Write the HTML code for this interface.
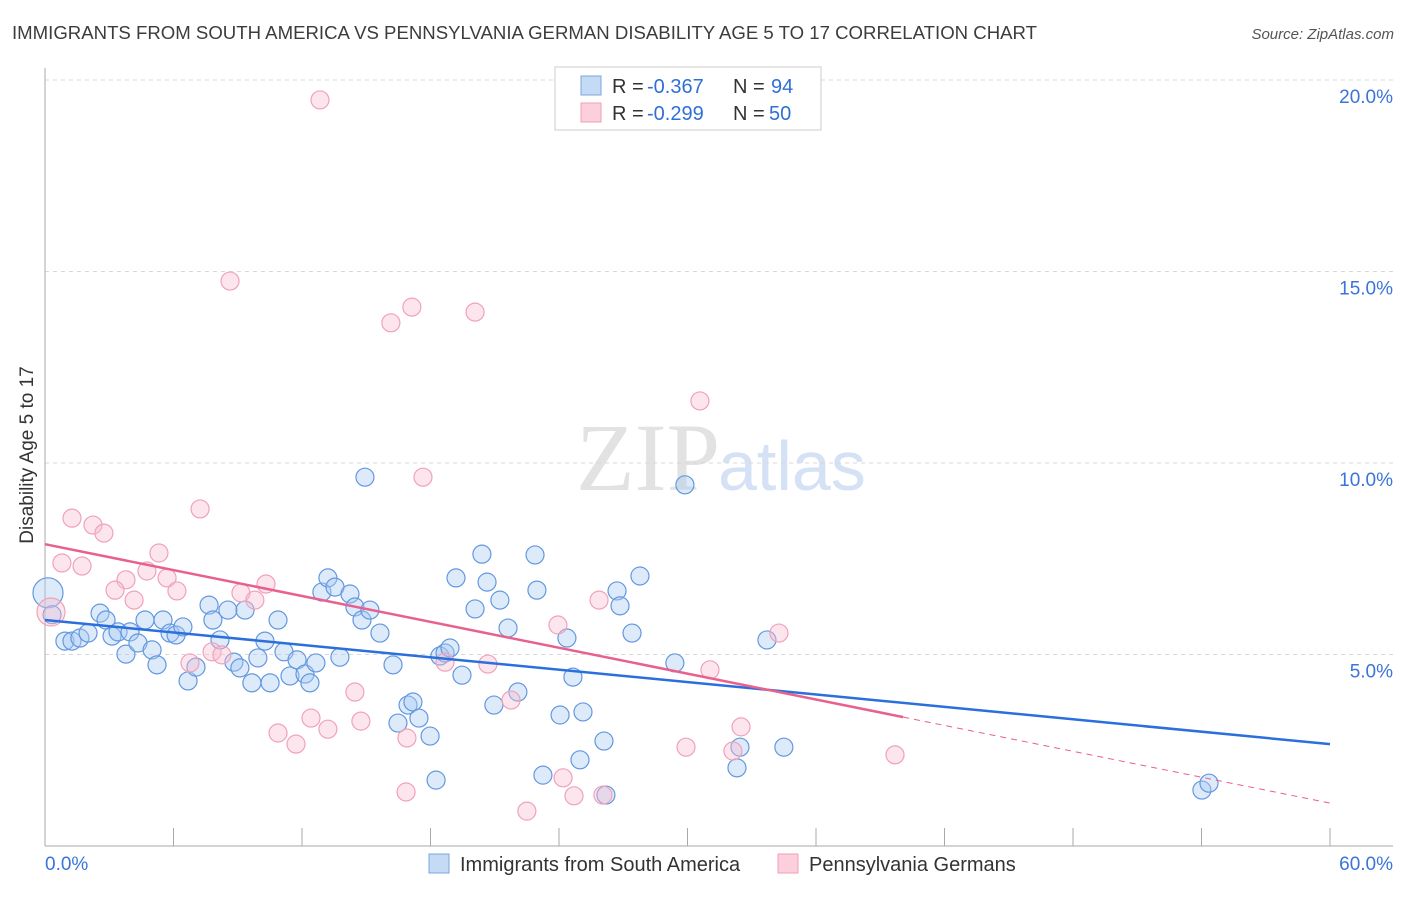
<!DOCTYPE html>
<html><head><meta charset="utf-8"><style>
body{margin:0;background:#fff;font-family:"Liberation Sans",sans-serif;}
svg text{font-family:"Liberation Sans",sans-serif;}
</style></head><body>
<svg id="chart" width="1406" height="892" viewBox="0 0 1406 892" xmlns="http://www.w3.org/2000/svg">
<text x="12" y="39" font-size="18" fill="#3c3c3c" textLength="1025" lengthAdjust="spacingAndGlyphs">IMMIGRANTS FROM SOUTH AMERICA VS PENNSYLVANIA GERMAN DISABILITY AGE 5 TO 17 CORRELATION CHART</text>
<text x="1394" y="39" font-size="15" fill="#555" font-style="italic" text-anchor="end">Source: ZipAtlas.com</text>
<text x="720" y="490" font-size="96" fill="#e2e2e2" text-anchor="end" style="font-family:'Liberation Serif',serif">ZIP</text>
<text x="718" y="490" font-size="70" fill="#d5e2f5">atlas</text>
<g id="grid"></g>
<g id="axes"></g>
<g id="marks"></g>
<text transform="translate(33,455) rotate(-90)" font-size="19" fill="#333" text-anchor="middle">Disability Age 5 to 17</text>
<g>
<rect x="555" y="67" width="266" height="63" fill="#fff" stroke="#ccc"/>
<rect x="581" y="76" width="20" height="19" fill="#c5daf5" stroke="#7aa6e0"/>
<rect x="581" y="103" width="20" height="19" fill="#fbd0dc" stroke="#ee9fb6"/>
<text x="612" y="93" font-size="20" fill="#333">R =</text>
<text x="647" y="93" font-size="20" fill="#2f6fd6">-0.367</text>
<text x="733" y="93" font-size="20" fill="#333">N =</text>
<text x="771" y="93" font-size="20" fill="#2f6fd6">94</text>
<text x="612" y="120" font-size="20" fill="#333">R =</text>
<text x="647" y="120" font-size="20" fill="#2f6fd6">-0.299</text>
<text x="733" y="120" font-size="20" fill="#333">N =</text>
<text x="769" y="120" font-size="20" fill="#2f6fd6">50</text>
</g>
<g>
<rect x="429" y="854" width="20" height="19" fill="#c5daf5" stroke="#7aa6e0"/>
<text x="460" y="871" font-size="20" fill="#333">Immigrants from South America</text>
<rect x="778" y="854" width="20" height="19" fill="#fbd0dc" stroke="#ee9fb6"/>
<text x="809" y="871" font-size="20" fill="#333">Pennsylvania Germans</text>
</g>
</svg>
<script>
const blueX=[0.14,0.33,0.93,1.26,1.63,2.01,2.57,2.85,3.13,3.41,3.78,3.97,4.34,4.67,5.00,5.23,5.51,5.84,6.12,6.44,6.68,7.05,7.66,7.84,8.17,8.54,8.82,9.10,9.34,9.66,9.94,10.27,10.51,10.88,11.16,11.44,11.77,12.14,12.37,12.65,12.93,13.21,13.54,13.77,14.24,14.47,14.80,15.17,15.64,16.25,16.48,16.95,17.18,17.46,17.98,18.26,18.44,18.68,18.91,19.47,19.19,20.08,20.40,20.64,20.96,21.24,21.62,22.08,22.88,22.97,23.25,24.05,24.37,24.65,24.98,25.12,26.10,26.19,26.71,26.85,27.41,27.78,29.41,29.88,32.45,32.31,33.71,34.50,54.02,54.35,14.94];
const blueY=[6.61,6.04,5.35,5.35,5.43,5.56,6.08,5.90,5.48,5.59,5.01,5.59,5.30,5.90,5.12,4.73,5.90,5.56,5.51,5.72,4.31,4.67,6.29,5.90,5.38,6.16,4.80,4.65,6.16,4.26,4.91,5.35,4.26,5.90,5.07,4.44,4.86,4.49,4.26,4.78,6.63,7.00,6.76,4.93,6.58,6.24,5.90,6.16,5.56,4.73,3.21,3.68,3.76,3.34,2.87,1.72,4.96,5.04,5.17,4.46,7.00,6.19,7.62,6.89,3.68,6.42,5.69,4.02,7.60,6.68,1.85,3.42,5.43,4.41,2.25,3.50,2.74,1.33,6.66,6.27,5.56,7.05,4.78,9.43,2.58,2.04,5.38,2.58,1.46,1.64,9.63];
const pinkX=[12.84,8.64,16.15,17.13,20.08,30.58,17.65,7.24,1.26,2.24,2.75,0.79,1.73,5.32,4.76,3.78,5.70,3.27,6.16,4.16,9.15,10.32,9.80,0.28,25.87,23.95,34.27,6.77,7.80,8.26,18.68,20.68,31.05,14.47,21.76,12.42,14.75,13.21,10.88,11.72,16.90,29.93,32.12,32.50,39.69,24.19,16.86,24.70,26.05,22.50];
const pinkY=[19.48,14.75,13.66,14.07,13.94,11.62,9.63,8.80,8.56,8.38,8.17,7.39,7.31,7.65,7.18,6.95,7.00,6.68,6.66,6.42,6.61,6.84,6.42,6.11,6.42,5.77,5.56,4.78,5.07,4.99,4.80,4.75,4.60,4.02,3.81,3.34,3.26,3.05,2.95,2.66,2.82,2.58,2.48,3.11,2.38,1.78,1.41,1.31,1.33,0.91];
const yTicks=[5,10,15,20];
const yTickLabels=["5.0%","10.0%","15.0%","20.0%"];
const xTickValues=[0,6,12,18,24,30,36,42,48,54,60];
const xEndLabels=["0.0%","60.0%"];
const blueTrend=[5.90,2.66];
const pinkTrend=[7.88,1.12];
const pinkSolidEnd=40.07;

const NS="http://www.w3.org/2000/svg";
const sx=v=>45+v/60*1285;
const sy=v=>846-v/5*191.5;
function mk(tag,attrs,parent){const e=document.createElementNS(NS,tag);for(const k in attrs)e.setAttribute(k,attrs[k]);parent.appendChild(e);return e;}
const grid=document.getElementById('grid'),axes=document.getElementById('axes'),marks=document.getElementById('marks');
yTicks.forEach((t,i)=>{
 const l=mk('line',{x1:45,x2:1393,y1:sy(t),y2:sy(t),stroke:'#d8d8d8','stroke-dasharray':'4,4'},grid);
 
 
 const tx=mk('text',{x:1393,y:sy(t)+23,'font-size':19,fill:'#3a74d8','text-anchor':'end'},axes);
 tx.textContent=yTickLabels[i];
 
 
});
const xa=mk('line',{x1:45,x2:1393,y1:846,y2:846,stroke:'#aaa'},axes);


const ya=mk('line',{x1:45,x2:45,y1:68,y2:846,stroke:'#aaa'},axes);


xTickValues.forEach(v=>{
 const t=mk('line',{x1:sx(v),x2:sx(v),y1:828,y2:846,stroke:'#aaa'},axes);
 
 
});
const xl0=mk('text',{x:45,y:870,'font-size':19,fill:'#3a74d8'},axes);xl0.textContent=xEndLabels[0];


const xl1=mk('text',{x:1393,y:870,'font-size':19,fill:'#3a74d8','text-anchor':'end'},axes);xl1.textContent=xEndLabels[1];


blueX.forEach((x,i)=>{
 const c=mk('circle',{cx:sx(x),cy:sy(blueY[i]),r:i===0?15:9,fill:'rgba(170,202,242,0.4)',stroke:'#6398e0','stroke-width':1.2},marks);
 
 
});
pinkX.forEach((x,i)=>{
 const c=mk('circle',{cx:sx(x),cy:sy(pinkY[i]),r:i===23?14:9,fill:'rgba(248,190,208,0.4)',stroke:'#f0a2b9','stroke-width':1.2},marks);
 
 
});
const pAt=x=>pinkTrend[0]+(pinkTrend[1]-pinkTrend[0])*x/60;
const bl=mk('line',{x1:sx(0),y1:sy(blueTrend[0]),x2:sx(60),y2:sy(blueTrend[1]),stroke:'#2a6fdb','stroke-width':2.5},marks);


const pl=mk('line',{x1:sx(0),y1:sy(pinkTrend[0]),x2:sx(pinkSolidEnd),y2:sy(pAt(pinkSolidEnd)),stroke:'#e8608c','stroke-width':2.5},marks);


const pd=mk('line',{x1:sx(pinkSolidEnd),y1:sy(pAt(pinkSolidEnd)),x2:sx(60),y2:sy(pinkTrend[1]),stroke:'#e8608c','stroke-width':1,'stroke-dasharray':'6,5'},marks);


</script>
</body></html>
